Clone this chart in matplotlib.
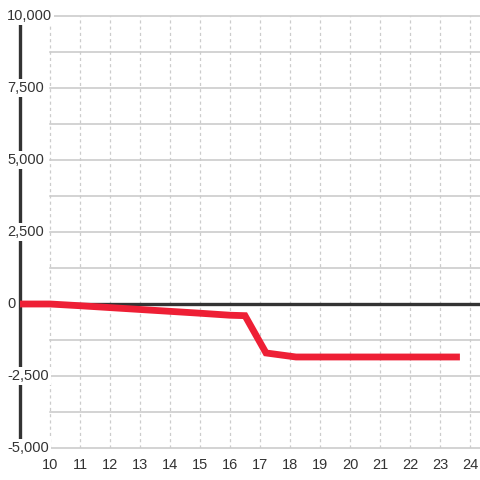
import numpy as np
import matplotlib
matplotlib.use("Agg")
import matplotlib.pyplot as plt
import matplotlib.transforms as mtransforms

plt.rcParams['font.family'] = ['Liberation Sans', 'DejaVu Sans']

# data
hours = [9.0, 10.0, 11.0, 12.0, 13.0, 14.0, 15.0, 16.0, 16.5, 17.2, 18.2,
         19.0, 20.0, 21.0, 22.0, 23.0, 23.55]
values = [0, 0, -60, -125, -190, -255, -320, -390, -405, -1700, -1840,
          -1840, -1840, -1840, -1840, -1840, -1840]
y_ticks = [-5000, -2500, 0, 2500, 5000, 7500, 10000]
x_ticks = list(range(10, 25))

fig = plt.figure(figsize=(4.8, 4.8), dpi=100)
ax = fig.add_axes([20 / 480, 1 - 448 / 480, 460 / 480, 432 / 480])
xmax = 9 + 460 / 30
ax.set_xlim(9, xmax)
ax.set_ylim(-5000, 10000)

for s in ax.spines.values():
    s.set_visible(False)

# horizontal grid every 1250
for y in np.arange(-5000, 10001, 1250):
    ax.plot([10, xmax], [y, y], color='#c8c8c8', lw=1.1, zorder=1, clip_on=False)
# vertical dotted grid
for x in x_ticks:
    ax.plot([x, x], [-5000, 10000], color='#cccccc', lw=0.9, ls=(0, (2.5, 2.5)), zorder=1)

# zero line and left axis line
ax.plot([9, xmax], [0, 0], color='#333333', lw=2.4, zorder=2)
ax.plot([9, 9], [-5000, 9700], color='#333333', lw=2.4, zorder=2, clip_on=False)

ax.plot(hours, values, color='#ee1f35', lw=4.9, zorder=3, solid_joinstyle='miter')

ax.set_yticks([])
ax.set_xticks(x_ticks)
ax.set_xticklabels([str(x) for x in x_ticks], fontsize=10.5, color='#333333')
ax.tick_params(axis='x', length=0, pad=7)

trans = mtransforms.blended_transform_factory(fig.transFigure, ax.transData)
for y in y_ticks:
    ax.text(7 / 480, y, f"{y:,}", transform=trans, ha='left', va='center',
            fontsize=10.5, color='#333333', zorder=5,
            bbox=dict(facecolor='white', edgecolor='none', pad=1.5))

fig.savefig("out.png", dpi=100)
